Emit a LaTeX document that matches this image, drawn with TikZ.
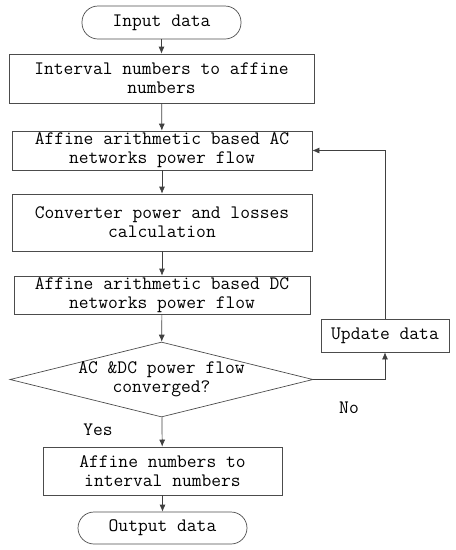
\documentclass[tikz,border=0pt]{standalone}
\usepackage{tikz}
\usetikzlibrary{arrows.meta}
\usetikzlibrary{shapes.geometric}
\tikzset{
  box/.style={draw=black!70, line width=0.7pt, rectangle, align=center, inner sep=0},
  term/.style={box, rounded corners=16pt},
  decide/.style={draw=black!70, line width=0.7pt, diamond, aspect=4, align=center, inner sep=-5pt},
  flow/.style={draw=black!75, line width=0.7pt, -{Latex[length=7pt,width=6pt]}},
}

\begin{document}
\begin{tikzpicture}[x=1pt, y=-1pt, font=\ttfamily\fontsize{19}{19}\selectfont]
\useasboundingbox (0,0) rectangle (456,550);
\node[term, minimum width=159, minimum height=33] (inp) at (161.5,22.5) {Input data};
\node[box, minimum width=305, minimum height=49] (intaff) at (161.5,78.5) {Interval numbers to affine\\numbers};
\node[box, minimum width=300, minimum height=39] (acpf) at (162,150.5) {Affine arithmetic based AC\\networks power flow};
\node[box, minimum width=300, minimum height=57] (conv) at (162,222.5) {Converter power and losses\\calculation};
\node[box, minimum width=296, minimum height=38] (dcpf) at (162,295) {Affine arithmetic based DC\\networks power flow};
\node[decide, minimum width=303, minimum height=75] (conv?) at (161.5,379.5) {AC \&DC power flow\\converged?};
\node[box, minimum width=128, minimum height=33] (upd) at (385,335.5) {Update data};
\node[box, minimum width=239, minimum height=48] (affint) at (162.5,471) {Affine numbers to\\interval numbers};
\node[term, minimum width=169, minimum height=32] (outp) at (162.5,528) {Output data};
% labels
\node (no) at (349,408) {No};
\node (yes) at (98,430) {Yes};
% main flow
\draw[flow] (inp) -- (intaff);
\draw[flow] (intaff) -- (acpf);
\draw[flow] (acpf) -- (conv);
\draw[flow] (conv) -- (dcpf);
\draw[flow] (dcpf) -- (conv?);
\draw[flow] (conv?) -- (affint);
\draw[flow] (affint) -- (outp);
% loop back
\draw[flow] (conv?.east) -| (upd.south);
\draw[flow] (upd.north) |- (acpf.east);
\end{tikzpicture}
\end{document}
